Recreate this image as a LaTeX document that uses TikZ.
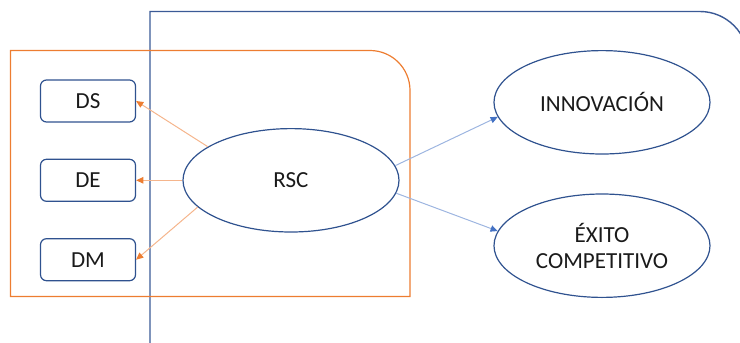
\documentclass[tikz,border=0pt]{standalone}
\usepackage{fontspec}
\setmainfont{Carlito}
\usepackage{xcolor}
\definecolor{FrameBlue}{HTML}{3B5A96}
\definecolor{ShapeBlue}{HTML}{2F528F}
\definecolor{ArrowBlue}{HTML}{4472C4}
\definecolor{ArrowBlueLight}{HTML}{9DB5E0}
\definecolor{RscOrange}{HTML}{ED7D31}
\definecolor{RscOrangeLight}{HTML}{F5B58C}
\definecolor{LabelText}{HTML}{1A1A1A}
\usetikzlibrary{positioning,shapes.geometric,arrows.meta}

\tikzset{
  dimbox/.style={draw=ShapeBlue, line width=0.6pt, rounded corners=3pt,
    minimum width=47.5pt, minimum height=21pt, inner sep=0pt,
    font=\fontsize{11.5}{13}\selectfont, text=LabelText},
  blob/.style={ellipse, draw=ShapeBlue, line width=0.6pt,
    minimum width=108pt, minimum height=51.7pt, inner sep=0pt,
    align=center, font=\fontsize{11.5}{13}\selectfont, text=LabelText},
  toorange/.style={RscOrangeLight, line width=0.5pt,
    -{Triangle[length=3.6pt, width=3.2pt, color=RscOrange]}},
  toblue/.style={ArrowBlueLight, line width=0.5pt,
    -{Triangle[length=3.6pt, width=3.2pt, color=ArrowBlue]}}
}

\begin{document}
\begin{tikzpicture}[x=0.5pt, y=-0.5pt]
  % page, 740 x 343 px
  \clip (0,0) rectangle (740,343);
  % outer blue frame, runs off the page
  \draw[FrameBlue, line width=0.7pt] (150,360) -- (150,11.5) -- (700,11.5)
    arc[start angle=90, end angle=0, radius=24pt] -- (748,360);
  % orange frame round the dimensions
  \draw[RscOrange, line width=0.6pt] (10.5,296.5) -- (10.5,50.5) -- (370,50.5)
    arc[start angle=90, end angle=0, radius=20pt] -- (410,296.5) -- cycle;

  % dimensions
  \foreach \name/\lbl/\y in {ds/DS/101, de/DE/180.3, dm/DM/259.7}{
    \node[dimbox] (\name) at (88,\y) {\lbl};
  }
  % constructs
  \node[blob] (rsc) at (291,180.3) {RSC};
  \node[blob] (inn) at (602,102.3) {INNOVACIÓN};
  \node[blob] (exito) at (602,245.7) {ÉXITO\\COMPETITIVO};

  % arrows
  \draw[toorange] (rsc.158) -- (ds.east);
  \draw[toorange] (rsc.west) -- (de.east);
  \draw[toorange] (rsc.196) -- (dm.east);
  \draw[toblue] (rsc.8) -- (inn.188);
  \draw[toblue] (rsc.-7) -- (exito.172);
\end{tikzpicture}
\end{document}
